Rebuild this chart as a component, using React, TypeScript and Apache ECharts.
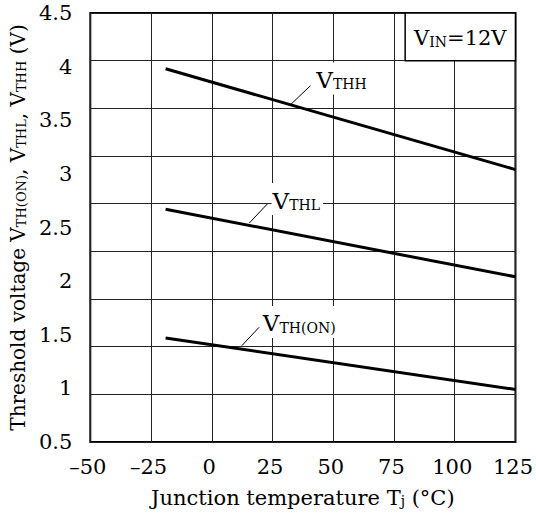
import React, { useEffect, useRef } from "react";
import * as echarts from "echarts";

// ---- data ----
const temps = [-19, 125];
const vthh = [3.98, 3.04];
const vthl = [2.67, 2.04];
const vthon = [1.47, 0.99];

const seriesNames = ["VTHH", "VTHL", "VTH(ON)"];
const seriesSubs = ["THH", "THL", "TH(ON)"];
// annotation anchors in data coordinates (temperature, voltage)
const labelAnchors = [
  [42.6, 3.89],
  [24.6, 2.765],
  [20.6, 1.62],
];
const leaderStarts = [
  [32.4, 3.645],
  [15.4, 2.541],
  [12.4, 1.399],
];
const leaderEnds = [
  [40.6, 3.822],
  [22.9, 2.72],
  [19.5, 1.57],
];
const condBox = [
  [79.6, 4.5],
  [125, 4.055],
];

const xTicks = { min: -50, max: 125, step: 25 };
const yTicks = { min: 0.5, max: 4.5, step: 0.5 };
const gridDivs = 9;

const FONT = "DejaVu Serif";

export default function App() {
  const ref = useRef<HTMLDivElement>(null);
  useEffect(() => {
    if (!ref.current) return;
    const chart = echarts.init(ref.current, undefined, { renderer: "svg" });
    const values = [vthh, vthl, vthon];
    const bigRich = {
      v: { fontSize: 23, fontFamily: FONT, color: "#000", lineHeight: 26, verticalAlign: "bottom" },
      s: { fontSize: 14, fontFamily: FONT, color: "#000", lineHeight: 21, verticalAlign: "bottom" },
    };
    const series: any[] = values.map((vals, i) => ({
      name: seriesNames[i],
      type: "line",
      xAxisIndex: 0,
      yAxisIndex: 0,
      data: temps.map((t, j) => [t, vals[j]]),
      showSymbol: false,
      symbol: "none",
      lineStyle: { color: "#000", width: 3 },
      z: 3,
      markLine: {
        silent: true,
        symbol: ["none", "none"],
        label: { show: false },
        lineStyle: { color: "#000", width: 1, type: "solid" },
        data: [[{ coord: leaderStarts[i] }, { coord: leaderEnds[i] }]],
      },
      markPoint: {
        silent: true,
        symbol: "circle",
        symbolSize: 0,
        itemStyle: { color: "transparent" },
        label: {
          show: true,
          position: "right",
          distance: 0,
          backgroundColor: "#fff",
          padding: [3, 3, 3, 1],
          formatter: "{v|V}{s|" + seriesSubs[i] + "}",
          rich: bigRich,
        },
        data: [{ coord: labelAnchors[i] }],
      },
    }));
    series[0].markArea = {
      silent: true,
      itemStyle: { color: "#fff", borderColor: "#000", borderWidth: 1.5, opacity: 1 },
      label: {
        show: true,
        position: "inside",
        formatter: "{v|V}{s|IN}{v|=12V}",
        rich: {
          v: { fontSize: 21, fontFamily: FONT, color: "#000", lineHeight: 24, verticalAlign: "bottom" },
          s: { fontSize: 14, fontFamily: FONT, color: "#000", lineHeight: 19, verticalAlign: "bottom" },
        },
      },
      data: [[{ coord: condBox[0] }, { coord: condBox[1] }]],
    };

    const xNameRich = {
      n: { fontSize: 21, fontFamily: FONT, color: "#000", lineHeight: 26, verticalAlign: "bottom" },
      s: { fontSize: 14, fontFamily: FONT, color: "#000", lineHeight: 21, verticalAlign: "bottom" },
    };
    const yNameRich = {
      n: { fontSize: 20, fontFamily: FONT, color: "#000", lineHeight: 25, verticalAlign: "bottom" },
      s: { fontSize: 13, fontFamily: FONT, color: "#000", lineHeight: 20, verticalAlign: "bottom" },
    };

    chart.setOption({
      animation: false,
      textStyle: { fontFamily: FONT },
      grid: {
        left: 88,
        right: 19,
        top: 13,
        bottom: 71,
        show: true,
        borderColor: "#000",
        borderWidth: 2,
        backgroundColor: "#fff",
      },
      xAxis: {
        type: "value",
        min: xTicks.min,
        max: xTicks.max,
        interval: xTicks.step,
        axisLine: { show: false },
        axisTick: { show: false },
        splitLine: { show: true, lineStyle: { color: "#222", width: 1 } },
        axisLabel: {
          fontSize: 21,
          fontFamily: FONT,
          color: "#000",
          margin: 14,
          padding: [0, 5, 0, 0],
          showMinLabel: true,
          showMaxLabel: true,
          formatter: (v: number) => (v < 0 ? "\u2013" + Math.abs(v) : String(v)),
        },
        name: "{n|Junction temperature T}{s|j}{n| (°C)}",
        nameLocation: "middle",
        nameGap: 40,
        nameTextStyle: { rich: xNameRich },
      },
      yAxis: [
        {
          type: "value",
          position: "left",
          min: yTicks.min,
          max: yTicks.max,
          interval: yTicks.step,
          axisLine: { show: false },
          axisTick: { show: false },
          splitLine: { show: false },
          axisLabel: {
            fontSize: 21,
            fontFamily: FONT,
            color: "#000",
            margin: 18,
            showMinLabel: true,
            showMaxLabel: true,
          },
          name:
            "{n|Threshold voltage V}{s|TH(ON)}{n|, V}{s|THL}{n|, V}{s|THH}{n| (V)}",
          nameLocation: "middle",
          nameGap: 56,
          nameRotate: 90,
          nameTextStyle: { rich: yNameRich },
        },
        {
          type: "value",
          position: "right",
          min: 0,
          max: gridDivs,
          interval: 1,
          axisLine: { show: false },
          axisTick: { show: false },
          axisLabel: { show: false },
          splitLine: { show: true, lineStyle: { color: "#222", width: 1 } },
        },
      ],
      series,
    });
    return () => chart.dispose();
  }, []);
  return (
    <div
      ref={ref}
      style={{ position: "absolute", left: 0, top: 0, width: 536, height: 513, background: "#fff" }}
    />
  );
}
